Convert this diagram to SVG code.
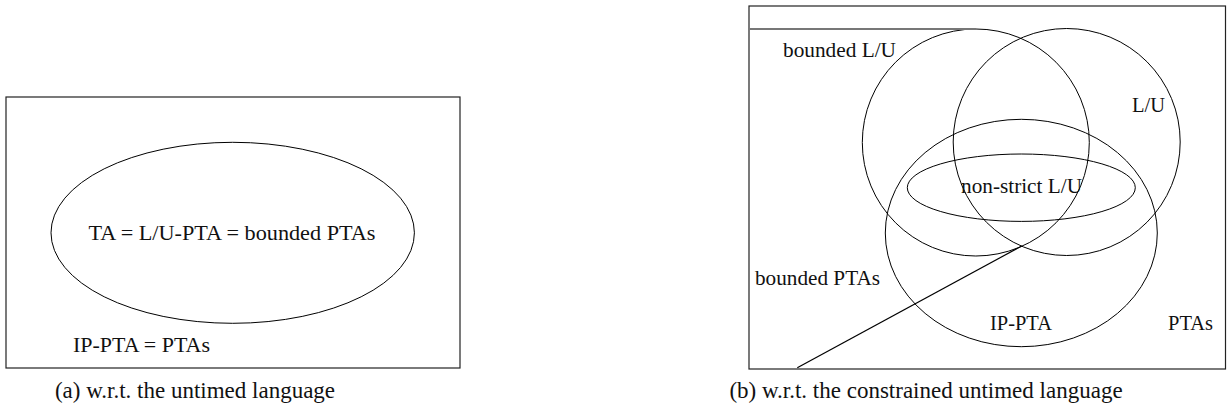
<svg xmlns="http://www.w3.org/2000/svg" width="1231" height="419" viewBox="0 0 1231 419">
<style>
.frame{fill:none;stroke:#222;stroke-width:1.2}
.set{fill:none;stroke:#000;stroke-width:1}
.lbl{font-family:"Liberation Serif",serif;font-size:21px;fill:#111}
.cap{font-family:"Liberation Serif",serif;font-size:23px;fill:#111;text-anchor:middle}
</style>
<rect width="1231" height="419" fill="#fff"/>
<g id="panel-a">
  <rect id="a-frame" class="frame" x="6" y="97" width="454" height="271"/>
  <g id="a-ta">
    <ellipse class="set" cx="232.7" cy="232.8" rx="181.7" ry="90.5"/>
    <text class="lbl" x="232" y="240" text-anchor="middle" textLength="287" lengthAdjust="spacingAndGlyphs">TA = L/U-PTA = bounded PTAs</text>
  </g>
  <text id="a-ptas" class="lbl" x="73" y="352" textLength="137" lengthAdjust="spacingAndGlyphs">IP-PTA = PTAs</text>
  <text id="a-cap" class="cap" x="195" y="398">(a) w.r.t. the untimed language</text>
</g>
<g id="panel-b">
  <rect id="b-frame" class="frame" x="749" y="6" width="476.5" height="363"/>
  <g id="b-boundedLU">
    <circle class="set" cx="975.8" cy="142.5" r="113.5"/>
    <text class="lbl" x="783" y="57" textLength="113" lengthAdjust="spacingAndGlyphs">bounded L/U</text>
  </g>
  <g id="b-LU">
    <circle class="set" cx="1066.7" cy="142" r="113.5"/>
    <text class="lbl" x="1132" y="112" textLength="33" lengthAdjust="spacingAndGlyphs">L/U</text>
  </g>
  <g id="b-IPPTA">
    <ellipse class="set" cx="1021.3" cy="233" rx="136" ry="113.7"/>
    <text class="lbl" x="990" y="330" textLength="62" lengthAdjust="spacingAndGlyphs">IP-PTA</text>
  </g>
  <g id="b-nonstrict">
    <ellipse class="set" cx="1021.3" cy="187.7" rx="114" ry="33.7"/>
    <text class="lbl" x="961" y="193" textLength="121" lengthAdjust="spacingAndGlyphs">non-strict L/U</text>
  </g>
  <text id="b-boundedPTAs" class="lbl" x="755" y="285" textLength="125" lengthAdjust="spacingAndGlyphs">bounded PTAs</text>
  <text id="b-PTAs" class="lbl" x="1168" y="330" textLength="45" lengthAdjust="spacingAndGlyphs">PTAs</text>
  <g id="connectors">
    <line x1="749" y1="29" x2="976" y2="29" stroke="#777" stroke-width="2"/>
    <line x1="1021.7" y1="246" x2="797.3" y2="367.7" stroke="#000" stroke-width="1.2"/>
  </g>
  <text id="b-cap" class="cap" x="926" y="398">(b) w.r.t. the constrained untimed language</text>
</g>
</svg>
